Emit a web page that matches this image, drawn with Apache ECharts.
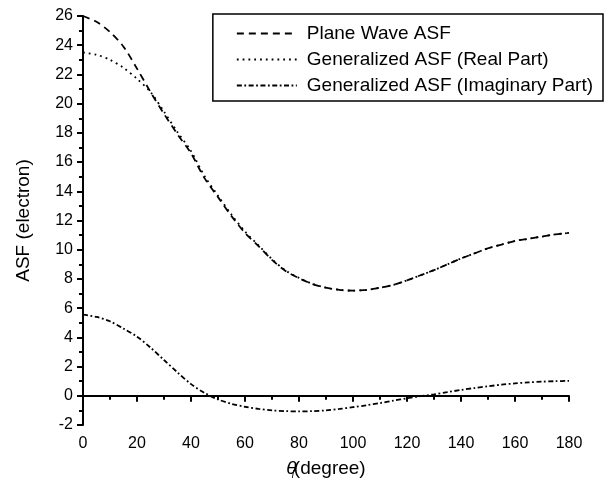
<!DOCTYPE html>
<html>
<head>
<meta charset="utf-8">
<script src="https://cdn.jsdelivr.net/npm/echarts@6/dist/echarts.min.js"></script>
<style>
  html, body { margin: 0; padding: 0; background: #fff; }
  #main { width: 608px; height: 489px; }
</style>
</head>
<body>
<div id="main"></div>
<script>
// scattering angle (degree)
var angles = [0, 5, 10, 15, 20, 25, 30, 35, 40, 45, 50, 55, 60, 65, 70, 75, 80, 85, 90,
  95, 100, 105, 110, 115, 120, 125, 130, 135, 140, 145, 150, 155, 160, 165, 170, 175, 180];

var planeWave = [26.0, 25.6, 24.9, 23.9, 22.4, 20.8, 19.3, 17.9, 16.6, 14.9, 13.6, 12.3, 11.15,
  10.25, 9.3, 8.55, 8.05, 7.65, 7.4, 7.25, 7.2, 7.25, 7.4, 7.6, 7.9, 8.25, 8.6, 9.0, 9.4,
  9.75, 10.1, 10.35, 10.6, 10.75, 10.9, 11.05, 11.15];

var realPart = [23.5, 23.35, 23.0, 22.45, 21.7, 20.8, 19.45, 18.05, 16.75, 15.05, 13.7, 12.4, 11.25,
  10.3, 9.35, 8.58, 8.07, 7.66, 7.4, 7.25, 7.2, 7.25, 7.4, 7.6, 7.9, 8.25, 8.6, 9.0, 9.4,
  9.75, 10.1, 10.35, 10.6, 10.75, 10.9, 11.05, 11.15];

var imagPart = [5.55, 5.4, 5.1, 4.6, 4.05, 3.3, 2.45, 1.6, 0.8, 0.2, -0.25, -0.55, -0.75,
  -0.9, -1.0, -1.05, -1.07, -1.05, -1.0, -0.9, -0.78, -0.65, -0.5, -0.33, -0.17, -0.03, 0.1,
  0.25, 0.4, 0.53, 0.65, 0.76, 0.85, 0.92, 0.97, 1.0, 1.02];

var names = ['Plane Wave ASF', 'Generalized ASF (Real Part)', 'Generalized ASF (Imaginary Part)'];

function pairs(ys) {
  return angles.map(function (x, i) { return [x, ys[i]]; });
}

var font = 'Liberation Sans, Arial, sans-serif';
var chart = echarts.init(document.getElementById('main'));

chart.setOption({
  backgroundColor: '#fff',
  animation: false,
  grid: { left: 83, right: 39, top: 16, bottom: 64 },
  legend: {
    data: names,
    orient: 'vertical',
    right: 5,
    top: 14,
    borderColor: '#000',
    borderWidth: 1.5,
    padding: [10, 10, 6, 23],
    itemWidth: 60,
    itemHeight: 14,
    itemGap: 7,
    itemStyle: { color: 'transparent', borderWidth: 0 },
    textStyle: { fontFamily: font, fontSize: 19, color: '#000', padding: [0, 0, 0, 5] }
  },
  xAxis: {
    type: 'value',
    min: 0, max: 180, interval: 20,
    name: '{t|θ}{s|i}{n|(degree)}',
    nameLocation: 'middle',
    nameGap: 33,
    nameTextStyle: {
      fontFamily: font, fontSize: 19, color: '#000',
      rich: {
        t: { fontFamily: font, fontSize: 19, fontStyle: 'italic', color: '#000' },
        s: { fontFamily: font, fontSize: 10, fontStyle: 'italic', color: '#000', padding: [12, 0, 0, -5] },
        n: { fontFamily: font, fontSize: 19, color: '#000' }
      }
    },
    axisLine: { lineStyle: { color: '#000', width: 2 } },
    axisTick: { length: 6, lineStyle: { color: '#000', width: 2 } },
    minorTick: { show: true, splitNumber: 2, length: 4, lineStyle: { color: '#000', width: 2 } },
    axisLabel: { margin: 11, fontFamily: font, fontSize: 16, color: '#000' },
    splitLine: { show: false }
  },
  yAxis: {
    type: 'value',
    min: -2, max: 26, interval: 2,
    name: 'ASF (electron)',
    nameLocation: 'middle',
    nameGap: 50,
    nameTextStyle: { fontFamily: font, fontSize: 19, color: '#000' },
    axisLine: { onZero: false, lineStyle: { color: '#000', width: 2 } },
    axisTick: { length: 6, lineStyle: { color: '#000', width: 2 } },
    minorTick: { show: true, splitNumber: 2, length: 4, lineStyle: { color: '#000', width: 2 } },
    axisLabel: { margin: 10, fontFamily: font, fontSize: 16, color: '#000' },
    splitLine: { show: false }
  },
  series: [
    {
      name: names[0], type: 'line', data: pairs(planeWave), smooth: 0.3,
      symbol: 'none', color: '#000',
      lineStyle: { color: '#000', width: 1.8, type: [7, 5] },
      markLine: {
        silent: true, symbol: 'none', label: { show: false },
        lineStyle: { color: '#000', width: 2, type: 'solid' },
        data: [{ yAxis: 0 }]
      }
    },
    {
      name: names[1], type: 'line', data: pairs(realPart), smooth: 0.3,
      symbol: 'none', color: '#000',
      lineStyle: { color: '#000', width: 1.8, type: [1.8, 4] }
    },
    {
      name: names[2], type: 'line', data: pairs(imagPart), smooth: 0.3,
      symbol: 'none', color: '#000',
      lineStyle: { color: '#000', width: 1.8, type: [5, 2.5, 1.8, 2.5] }
    }
  ]
});
</script>
</body>
</html>
